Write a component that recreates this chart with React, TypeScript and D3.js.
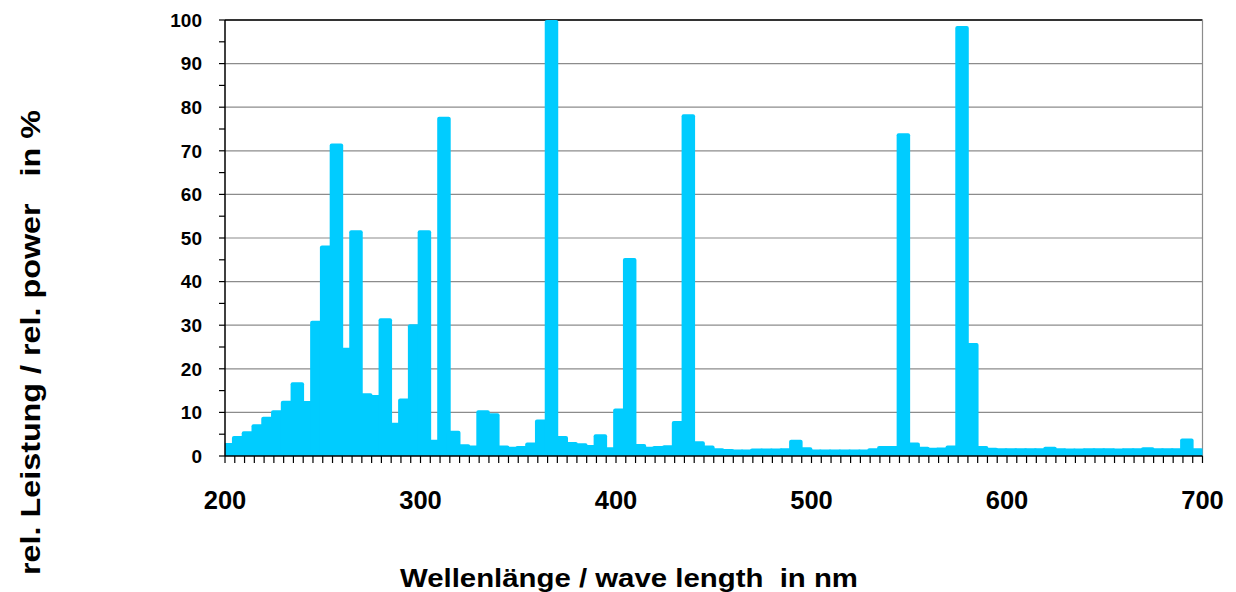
import React from "react";
import * as d3 from "d3";

const wavelengths: number[] = Array.from({ length: 100 }, (_, k) => 202 + 5 * k);
const power: number[] = [
  3.0, 4.6, 5.7, 7.3, 9.0, 10.5, 12.7, 16.9, 12.6, 31.0,
  48.3, 71.7, 24.8, 51.8, 14.4, 14.0, 31.6, 7.6, 13.2, 30.2,
  51.8, 3.7, 77.8, 5.8, 2.7, 2.4, 10.5, 9.8, 2.4, 2.1,
  2.3, 3.1, 8.4, 100, 4.6, 3.2, 2.9, 2.5, 5.0, 2.0,
  10.9, 45.4, 2.75, 2.1, 2.3, 2.45, 8.0, 78.4, 3.4, 2.4,
  1.75, 1.6, 1.5, 1.5, 1.7, 1.7, 1.7, 1.75, 3.7, 2.0,
  1.5, 1.5, 1.5, 1.5, 1.5, 1.5, 1.8, 2.3, 2.3, 74.0,
  3.1, 2.1, 1.9, 1.95, 2.4, 98.6, 25.9, 2.3, 1.9, 1.75,
  1.75, 1.8, 1.8, 1.75, 2.1, 1.75, 1.7, 1.7, 1.8, 1.8,
  1.8, 1.7, 1.8, 1.75, 2.0, 1.75, 1.75, 1.75, 4.0, 1.8,
];
const xTicks: number[] = [200, 300, 400, 500, 600, 700];
const yTicks: number[] = [0, 10, 20, 30, 40, 50, 60, 70, 80, 90, 100];
const xTitle = "Wellenlänge / wave length  in nm";
const yTitle = "rel. Leistung / rel. power   in %";

export default function App() {
  const left = 225, right = 1202.5, top = 20, bottom = 456;
  const x = d3.scaleLinear().domain([200, 700]).range([left, right]);
  const y = d3.scaleLinear().domain([0, 100]).range([bottom, top]);
  const barW = 13.5;
  const font = "'Liberation Sans', Arial, sans-serif";
  const minorX = d3.range(200, 701, 5);
  const minorY = d3.range(0, 101, 5);
  return (
    <div style={{ position: "absolute", left: 0, top: 0 }}>
      <svg width={1236} height={592} style={{ display: "block" }}>
        <defs>
          <clipPath id="plot">
            <rect x={left} y={top} width={right - left} height={bottom - top} />
          </clipPath>
        </defs>
        <rect x={0} y={0} width={1236} height={592} fill="#fff" />
        {yTicks.filter((t) => t > 0 && t < 100).map((t) => (
          <line key={t} x1={left} x2={right} y1={y(t)} y2={y(t)} stroke="#8c8c8c" strokeWidth={1.2} />
        ))}
        <line x1={left} x2={right} y1={top} y2={top} stroke="#333" strokeWidth={1.8} />
        <line x1={right} x2={right} y1={top} y2={bottom} stroke="#8c8c8c" strokeWidth={1.2} />
        <g clipPath="url(#plot)">
          {power.map((v, i) => (
            <rect
              key={i}
              x={x(wavelengths[i]) - barW / 2}
              y={y(Math.min(v, 101))}
              width={barW}
              height={bottom - y(Math.min(v, 101))}
              rx={2}
              fill="#00CCFF"
            />
          ))}
        </g>
        <line x1={left} x2={left} y1={top} y2={bottom} stroke="#000" strokeWidth={1.5} />
        <line x1={left} x2={right} y1={bottom} y2={bottom} stroke="#000" strokeWidth={1.5} />
        {minorY.map((t) => (
          <line key={t} x1={left - 6} x2={left} y1={y(t)} y2={y(t)} stroke="#000" strokeWidth={1.2} />
        ))}
        {minorX.map((t) => (
          <line key={t} x1={x(t)} x2={x(t)} y1={bottom} y2={bottom + 7} stroke="#000" strokeWidth={1.2} />
        ))}
        {yTicks.map((t) => (
          <text key={t} x={202} y={y(t)} dy="0.36em" textAnchor="end" fontFamily={font} fontWeight="bold" fontSize={19}>
            {t}
          </text>
        ))}
        {xTicks.map((t) => (
          <text key={t} x={x(t)} y={509} textAnchor="middle" fontFamily={font} fontWeight="bold" fontSize={25.5}>
            {t}
          </text>
        ))}
        <text
          x={629}
          y={587}
          textAnchor="middle"
          fontFamily={font}
          fontWeight="bold"
          fontSize={25}
          textLength={458}
          lengthAdjust="spacingAndGlyphs"
          style={{ whiteSpace: "pre" }}
        >
          {xTitle}
        </text>
        <text
          transform="translate(40,342.5) rotate(-90)"
          textAnchor="middle"
          fontFamily={font}
          fontWeight="bold"
          fontSize={27}
          textLength={465}
          lengthAdjust="spacingAndGlyphs"
          style={{ whiteSpace: "pre" }}
        >
          {yTitle}
        </text>
      </svg>
    </div>
  );
}
